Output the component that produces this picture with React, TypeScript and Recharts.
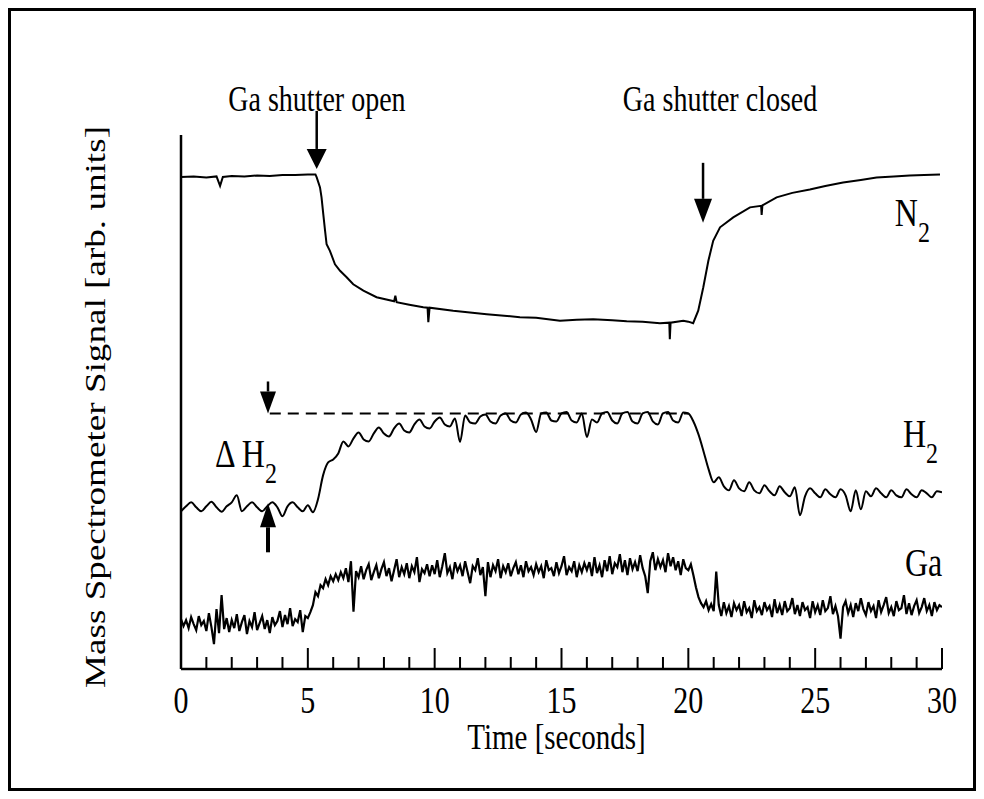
import React from "react";
import { LineChart, Line, XAxis, YAxis, ReferenceLine, ReferenceDot } from "recharts";

// N2 trace (time in s, signal in arb. units)
const n2Time = [
  0, 0.5, 1.0, 1.4, 1.54, 1.65, 2.0, 2.5, 3.0, 3.5, 4.0, 4.5, 5.0, 5.3,
  5.35, 5.48, 5.54, 5.61, 5.68, 5.74, 5.87, 6.07, 6.27, 6.53, 6.79, 7.19, 7.71,
  8.4, 8.45, 8.5, 9.0, 9.55, 9.72, 9.75, 9.8, 10.73, 12.05, 13.36, 14.0, 14.94,
  15.6, 16.25, 17.0, 17.57, 18.2, 18.88, 19.25, 19.27, 19.3, 19.8, 20.0, 20.19,
  20.39, 20.59, 20.79, 20.98, 21.25, 21.77, 22.43, 22.87, 22.89, 22.92, 23.48,
  24.1, 24.79, 25.4, 26.1, 26.8, 27.42, 28.1, 28.73, 29.3, 29.92,
];
const n2Signal = [
  98.6, 98.7, 98.5, 98.7, 96.8, 98.6, 98.8, 98.7, 98.9, 98.8, 99.0, 99.0, 99.1, 99.1,
  98.5, 96.5, 94.5, 91.1, 87.8, 85.1, 83.8, 81.1, 79.8, 78.5, 77.1, 75.8, 74.5,
  73.7, 74.8, 73.5, 73.0, 72.5, 72.4, 69.5, 72.4, 71.8, 71.1, 70.5, 70.4, 69.8,
  70.0, 70.1, 69.9, 69.7, 69.6, 69.3, 69.4, 66.1, 69.4, 69.8, 69.6, 69.3,
  71.8, 76.5, 81.8, 85.8, 88.5, 90.5, 92.5, 92.8, 91.0, 92.9, 94.5,
  95.4, 96.1, 96.8, 97.5, 98.0, 98.5, 98.7, 98.9, 99.0, 99.1,
];

// H2 trace, one reading every 0.2 s
const h2Step = 0.2;
const h2Signal = [
  31.6, 32.6, 33.4, 32.4, 31.6,
  32.6, 33.5, 32.4, 31.5, 32.6,
  33.4, 34.8, 31.6, 32.6, 33.4,
  32.4, 31.6, 32.6, 33.4, 32.4,
  30.6, 32.6, 33.4, 32.4, 31.6,
  32.8, 31.4, 34.0, 38.8, 41.4,
  42.0, 43.2, 45.6, 44.6, 46.2,
  47.4, 46.0, 45.6, 47.2, 48.4,
  47.2, 46.6, 48.2, 49.2, 47.8,
  47.4, 49.0, 50.0, 48.6, 48.2,
  49.6, 50.4, 49.0, 48.6, 50.2,
  45.5, 50.8, 49.4, 49.2, 50.6,
  51.0, 49.6, 49.2, 50.8, 51.2,
  49.8, 49.4, 51.0, 51.4, 50.0,
  47.5, 51.2, 51.4, 49.8, 49.6,
  51.2, 51.5, 49.8, 49.4, 51.2,
  46.5, 50.0, 49.4, 51.2, 51.5,
  49.8, 49.2, 51.2, 51.5, 49.6,
  49.2, 51.2, 51.5, 49.6, 49.0,
  51.2, 51.5, 49.8, 49.4, 51.4,
  51.2, 49.6, 47.0, 43.6, 40.0,
  37.4, 38.4, 36.6, 35.8, 37.8,
  36.2, 35.6, 37.4, 35.8, 35.2,
  36.8, 35.6, 34.8, 36.6, 35.4,
  34.6, 36.4, 30.8, 34.6, 36.2,
  35.2, 34.4, 36.0, 35.0, 34.4,
  36.0, 34.8, 31.6, 35.8, 32.0,
  35.6, 34.6, 36.2, 35.2, 34.4,
  35.8, 34.8, 34.4, 36.0, 35.0,
  34.4, 35.8, 35.2, 34.4, 35.6,
  35.4,
];

// Ga trace, one reading every 0.1 s
const gaStep = 0.1;
const gaSignal = [
  10.0, 8.6, 9.8, 8.2, 10.4, 9.0, 7.8, 10.6, 8.8, 9.6,
  7.6, 11.2, 8.4, 5.0, 12.0, 7.2, 14.8, 8.0, 10.2, 7.4,
  9.8, 8.2, 11.0, 7.6, 9.4, 10.8, 7.0, 9.6, 8.4, 11.4,
  7.8, 9.2, 10.6, 8.0, 9.8, 7.2, 10.4, 8.8, 9.6, 11.6,
  8.4, 10.8, 9.0, 12.2, 8.6, 10.0, 9.4, 11.8, 7.4, 10.6,
  10.2, 11.4, 12.8, 15.4, 14.6, 16.8, 16.2, 18.0, 16.8, 18.6,
  17.6, 19.0, 17.8, 19.4, 18.2, 20.2, 17.4, 21.6, 11.5, 19.6,
  18.4, 20.6, 18.0, 19.8, 21.0, 17.8, 19.4, 20.8, 18.2, 20.0,
  21.4, 18.6, 20.2, 17.6, 19.8, 22.0, 18.4, 20.4, 19.0, 21.2,
  18.2, 20.6, 19.4, 22.4, 17.4, 20.0, 19.2, 21.0, 18.6, 20.8,
  19.0, 21.8, 18.4, 20.6, 23.2, 19.2, 20.4, 18.0, 21.4, 19.6,
  20.8, 18.6, 21.6, 19.4, 17.2, 20.6, 19.8, 22.2, 18.8, 20.4,
  14.6, 21.4, 18.4, 20.8, 19.6, 22.0, 18.2, 20.6, 19.4, 21.2,
  18.6, 20.2, 21.4, 19.0, 20.8, 18.4, 21.6, 19.6, 20.4, 18.8,
  21.0, 19.4, 20.6, 18.2, 21.8, 19.8, 20.2, 18.6, 21.4, 19.2,
  20.6, 22.6, 18.8, 20.4, 19.6, 21.6, 18.4, 20.8, 19.4, 21.2,
  19.8, 21.4, 18.6, 22.4, 19.2, 20.8, 18.4, 21.8, 19.6, 22.6,
  19.0, 21.2, 20.4, 23.0, 19.4, 21.8, 18.8, 22.2, 20.0, 21.4,
  19.6, 22.8, 20.2, 18.6, 15.2, 21.6, 23.4, 19.8, 22.0, 20.4,
  21.8, 19.4, 23.2, 20.6, 22.4, 19.8, 21.6, 18.8, 22.0, 20.2,
  19.8, 21.0, 18.8, 16.4, 14.4, 13.2, 12.4, 13.6, 11.8, 13.0,
  11.6, 19.5, 12.8, 10.6, 13.4, 11.2, 12.6, 10.4, 13.2, 11.8,
  12.8, 10.6, 13.6, 11.4, 12.2, 10.2, 13.8, 11.6, 12.4, 10.8,
  13.4, 11.8, 12.6, 10.4, 14.0, 11.2, 12.8, 10.8, 13.6, 11.6,
  12.2, 14.2, 11.0, 12.8, 10.6, 13.4, 11.8, 12.4, 10.2, 13.6,
  11.4, 12.8, 10.8, 13.8, 11.6, 12.2, 14.6, 11.0, 12.6, 10.6,
  6.1, 12.4, 13.6, 11.2, 12.8, 10.4, 13.2, 11.6, 14.2, 12.0,
  10.8, 13.4, 11.6, 12.6, 10.2, 13.8, 11.4, 12.8, 14.4, 11.2,
  12.4, 10.6, 13.6, 11.8, 12.2, 14.8, 11.0, 13.2, 10.8, 12.6,
  13.8, 11.2, 12.4, 14.2, 11.6, 12.8, 10.6, 13.4, 11.8, 12.8,
  12.4,
];

const timeTicks = [
  0, 1, 2, 3, 4, 5, 6, 7, 8, 9, 10, 11, 12, 13, 14, 15,
  16, 17, 18, 19, 20, 21, 22, 23, 24, 25, 26, 27, 28, 29, 30,
];

const n2Data = n2Time.map((t, i) => ({ t, v: n2Signal[i] }));
const h2Data = h2Signal.map((v, i) => ({ t: +(i * h2Step).toFixed(2), v }));
const gaData = gaSignal.map((v, i) => ({ t: +(i * gaStep).toFixed(2), v }));

const FONT = "'Liberation Serif', 'Times New Roman', serif";
// the scan is stretched vertically, so horizontal text is taller than normal
const STRETCH = 1.25;
const tall = (y: number) => `translate(0, ${y}) scale(1, ${STRETCH}) translate(0, ${-y})`;

function TimeTick(props: any) {
  const { x, y, payload } = props;
  const major = payload.value % 5 === 0;
  const ty = y + 31;
  return (
    <g>
      <line x1={x} x2={x} y1={y} y2={y - (major ? 21 : 12)} stroke="#000" strokeWidth={2} />
      {major && (
        <text
          x={x}
          y={ty}
          transform={tall(ty)}
          textAnchor="middle"
          dominantBaseline="central"
          fontSize={30}
          fontFamily={FONT}
          fill="#000"
        >
          {payload.value}
        </text>
      )}
    </g>
  );
}

function xTitle(props: any) {
  const { x, y, width } = props.viewBox;
  const ty = y + 68;
  return (
    <text
      x={x + width / 2 - 5}
      y={ty}
      transform={tall(ty)}
      textAnchor="middle"
      dominantBaseline="central"
      fontSize={29}
      fontFamily={FONT}
      fill="#000"
    >
      Time [seconds]
    </text>
  );
}

function yTitle(props: any) {
  const { x, y, height } = props.viewBox;
  const cx = x - 66;
  const cy = y + height / 2 + 5;
  return (
    <text
      x={cx}
      y={cy}
      transform={`rotate(-90, ${cx}, ${cy})`}
      textAnchor="middle"
      dominantBaseline="central"
      fontSize={29}
      fontFamily={FONT}
      textLength={562}
      lengthAdjust="spacingAndGlyphs"
      fill="#000"
    >
      Mass Spectrometer Signal [arb. units]
    </text>
  );
}

// arrow drawn from its tip, lengths in px
const arrow = (dir: "down" | "up", shaft: number, head: number, headW = 18) => (p: any) => {
  const { cx, cy } = p;
  const s = dir === "down" ? -1 : 1;
  const base = cy + s * head;
  return (
    <g>
      <line x1={cx} x2={cx} y1={base} y2={base + s * shaft} stroke="#000" strokeWidth={dir === "up" ? 4 : 2.5} />
      <polygon points={`${cx},${cy} ${cx - headW / 2},${base} ${cx + headW / 2},${base}`} fill="#000" />
    </g>
  );
};

const label = (text: string, size: number, anchor: "start" | "middle", sub?: string) => (p: any) => (
  <text x={p.cx} y={p.cy} transform={tall(p.cy)} textAnchor={anchor} fontSize={size} fontFamily={FONT} fill="#000">
    {text}
    {sub && (
      <tspan dy={size * 0.4} fontSize={size * 0.75}>
        {sub}
      </tspan>
    )}
  </text>
);

export default function App() {
  return (
    <div style={{ position: "absolute", left: 0, top: 0, width: 984, height: 799, background: "#fff" }}>
      <div
        style={{
          position: "absolute",
          left: 8,
          top: 8,
          width: 968,
          height: 783,
          border: "3px solid #000",
          boxSizing: "border-box",
        }}
      />
      <div style={{ position: "absolute", left: 0, top: 0 }}>
        <LineChart width={984} height={799} margin={{ top: 135, right: 42, bottom: 70, left: 161 }}>
          <XAxis
            type="number"
            dataKey="t"
            domain={[0, 30]}
            allowDataOverflow
            ticks={timeTicks}
            interval={0}
            tickSize={0}
            tickMargin={0}
            tickLine={false}
            tick={<TimeTick />}
            height={60}
            axisLine={{ stroke: "#000", strokeWidth: 2.5 }}
            label={{ content: xTitle }}
          />
          <YAxis
            type="number"
            domain={[0, 107]}
            allowDataOverflow
            width={20}
            tick={false}
            tickLine={false}
            axisLine={{ stroke: "#000", strokeWidth: 2.5 }}
            label={{ content: yTitle }}
          />
          <ReferenceLine
            segment={[{ x: 3.5, y: 51.2 }, { x: 20, y: 51.2 }]}
            stroke="#000"
            strokeWidth={2}
            strokeDasharray="11 7"
            ifOverflow="visible"
          />
          <Line data={n2Data} dataKey="v" type="linear" stroke="#000" strokeWidth={2} dot={false} isAnimationActive={false} />
          <Line data={h2Data} dataKey="v" type="monotone" stroke="#000" strokeWidth={2} dot={false} isAnimationActive={false} />
          <Line data={gaData} dataKey="v" type="linear" stroke="#000" strokeWidth={2.2} dot={false} isAnimationActive={false} />

          <ReferenceDot x={5.35} y={100.2} ifOverflow="visible" shape={arrow("down", 38, 20, 20)} />
          <ReferenceDot x={20.58} y={89.4} ifOverflow="visible" shape={arrow("down", 36, 24, 18)} />
          <ReferenceDot x={3.43} y={51.2} ifOverflow="visible" shape={arrow("down", 10, 22, 16)} />
          <ReferenceDot x={3.43} y={33.2} ifOverflow="visible" shape={arrow("up", 25, 24, 16)} />

          <ReferenceDot x={5.36} y={111.8} ifOverflow="visible" shape={label("Ga shutter open", 28, "middle")} />
          <ReferenceDot x={21.25} y={111.8} ifOverflow="visible" shape={label("Ga shutter closed", 28, "middle")} />
          <ReferenceDot x={28.14} y={88.8} ifOverflow="visible" shape={label("N", 32, "start", "2")} />
          <ReferenceDot x={28.46} y={44.4} ifOverflow="visible" shape={label("H", 32, "start", "2")} />
          <ReferenceDot x={28.54} y={18.6} ifOverflow="visible" shape={label("Ga", 32, "start")} />
          <ReferenceDot x={1.34} y={40.4} ifOverflow="visible" shape={label("\u0394 H", 32, "start", "2")} />
        </LineChart>
      </div>
    </div>
  );
}
